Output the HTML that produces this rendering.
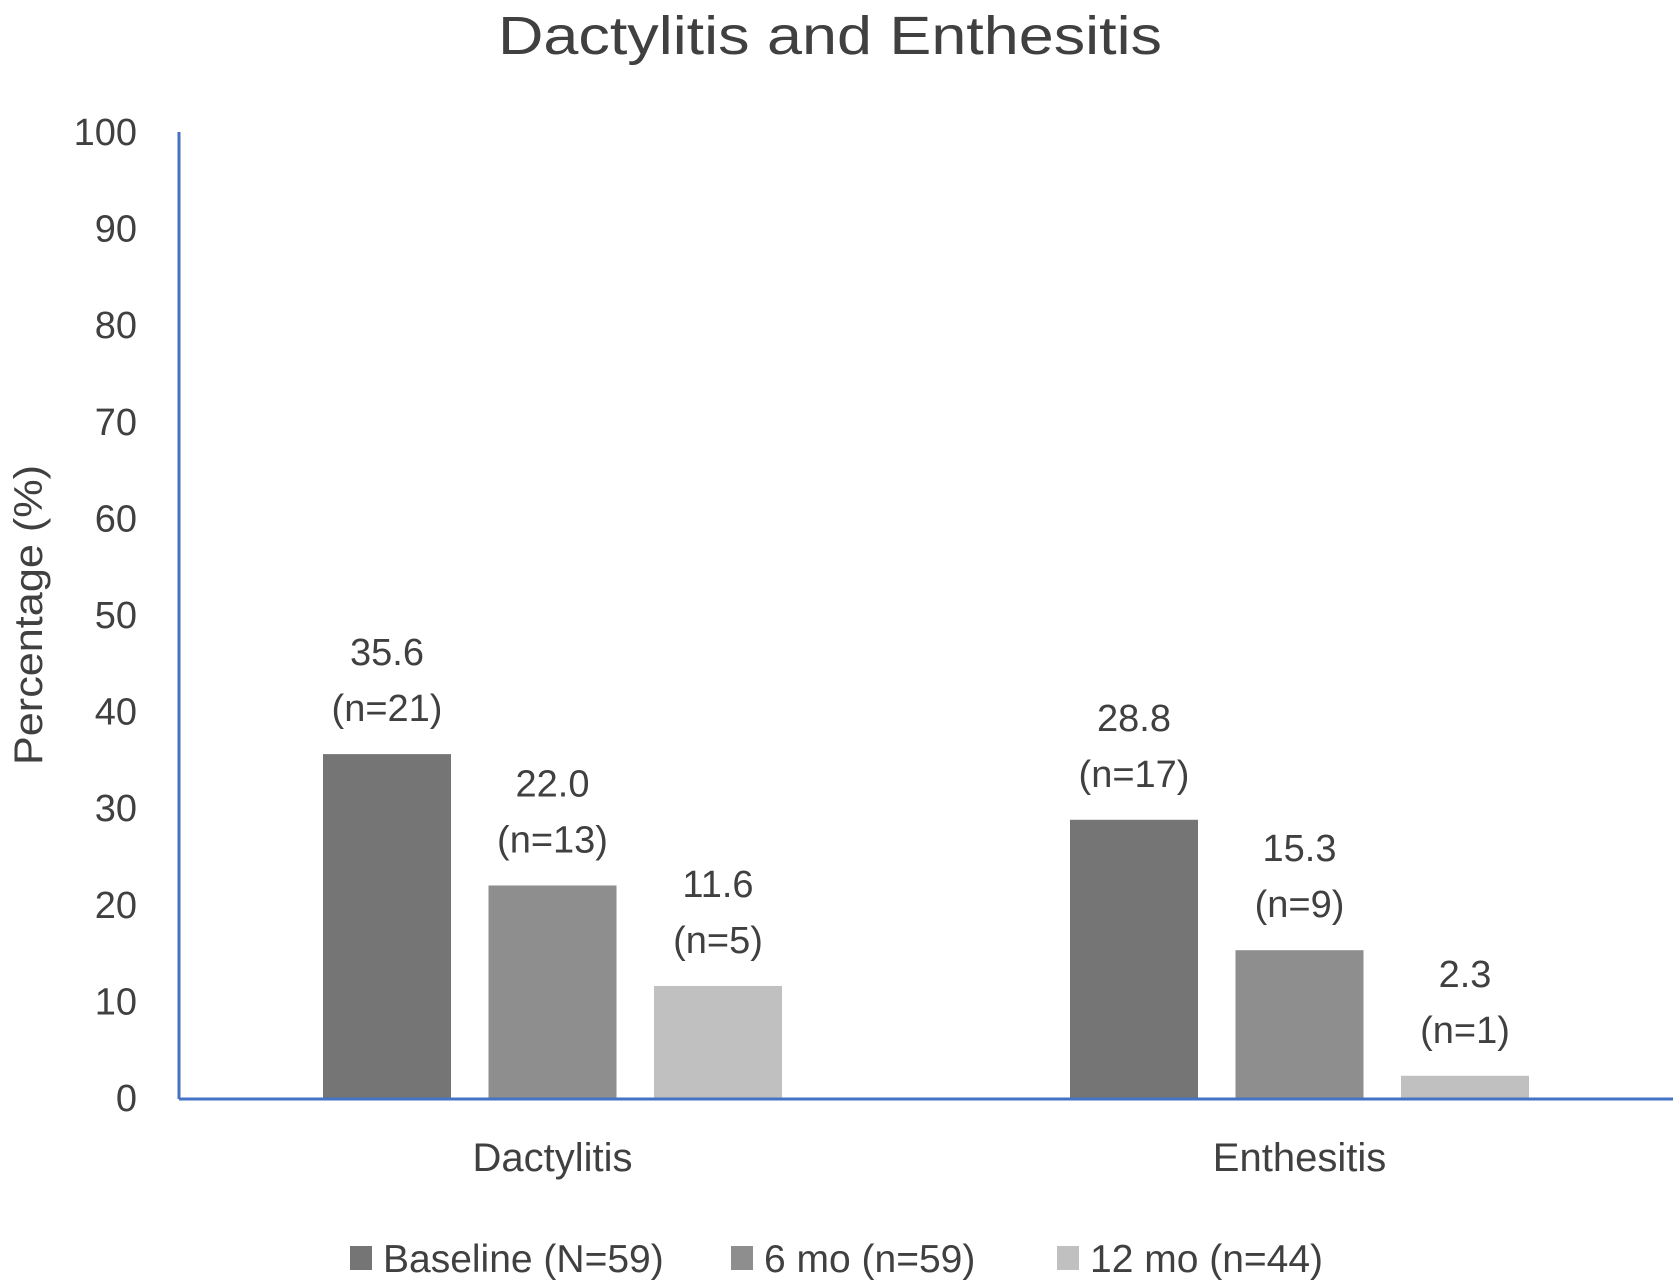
<!DOCTYPE html>
<html><head><meta charset="utf-8"><style>
html,body{margin:0;padding:0;background:#fff}
svg{display:block;font-family:"Liberation Sans",sans-serif}
</style></head><body>
<svg id="chart" width="1675" height="1282" viewBox="0 0 1675 1282">
<text x="830" y="54" text-anchor="middle" font-size="54" textLength="664" lengthAdjust="spacingAndGlyphs" fill="#404040">Dactylitis and Enthesitis</text>
<text transform="translate(42,615) rotate(-90)" text-anchor="middle" font-size="40" textLength="300" lengthAdjust="spacingAndGlyphs" fill="#404040">Percentage (%)</text>
<g id="yticks"></g><g id="bars"></g><g id="labels"></g>
<line x1="179" y1="132" x2="179" y2="1099" stroke="#4472c4" stroke-width="3"/>
<line x1="179" y1="1099" x2="1673" y2="1099" stroke="#4472c4" stroke-width="3"/>
<g id="legend"></g>
</svg>
<script>
const categories = ["Dactylitis", "Enthesitis"];
const seriesNames = ["Baseline (N=59)", "6 mo (n=59)", "12 mo (n=44)"];
const baseline = [35.6, 28.8];
const sixMo = [22.0, 15.3];
const twelveMo = [11.6, 2.3];
const baselineN = ["(n=21)", "(n=17)"];
const sixMoN = ["(n=13)", "(n=9)"];
const twelveMoN = ["(n=5)", "(n=1)"];
const yTicks = [0, 10, 20, 30, 40, 50, 60, 70, 80, 90, 100];

const NS = "http://www.w3.org/2000/svg";
const colors = ["#757575", "#8e8e8e", "#c0c0c0"];
const series = [baseline, sixMo, twelveMo];
const seriesN = [baselineN, sixMoN, twelveMoN];
const y = v => 1098 - v * 9.66;
const plotL = 179, plotR = 1673;
const catW = (plotR - plotL) / categories.length;
const barW = 128, step = 165.5;
function mk(tag, attrs, parent) {
  const e = document.createElementNS(NS, tag);
  for (const k in attrs) e.setAttribute(k, attrs[k]);
  parent.appendChild(e); return e;
}
const yt = document.getElementById('yticks');
yTicks.forEach(t => {
  const e = mk('text', {x: 137, y: y(t) + 13, 'text-anchor': 'end', 'font-size': 38, fill: '#404040'}, yt);
  e.textContent = t;
  
  
});
const bars = document.getElementById('bars');
const labels = document.getElementById('labels');
categories.forEach((c, i) => {
  const cx = plotL + catW * (i + 0.5);
  series.forEach((s, j) => {
    const bx = cx + (j - 1) * step;
    const r = mk('rect', {x: bx - barW / 2, y: y(s[i]), width: barW, height: 1098 - y(s[i]), fill: colors[j]}, bars);
    
    
    const v = mk('text', {x: bx, y: y(s[i]) - 89, 'text-anchor': 'middle', 'font-size': 38, fill: '#404040'}, labels);
    v.textContent = s[i].toFixed(1);
    
    
    const n = mk('text', {x: bx, y: y(s[i]) - 33, 'text-anchor': 'middle', 'font-size': 38, fill: '#404040'}, labels);
    n.textContent = seriesN[j][i];
    
    
  });
  const t = mk('text', {x: cx, y: 1171, 'text-anchor': 'middle', 'font-size': 40, fill: '#404040'}, labels);
  t.textContent = c;
  
  
});
const lg = document.getElementById('legend');
const lx = [350, 731, 1057];
seriesNames.forEach((nm, j) => {
  const sq = mk('rect', {x: lx[j], y: 1246, width: 22, height: 24, fill: colors[j]}, lg);
  
  
  const t = mk('text', {x: lx[j] + 33, y: 1272, 'font-size': 39, fill: '#404040'}, lg);
  t.textContent = nm;
  
  
});
</script>
</body></html>
